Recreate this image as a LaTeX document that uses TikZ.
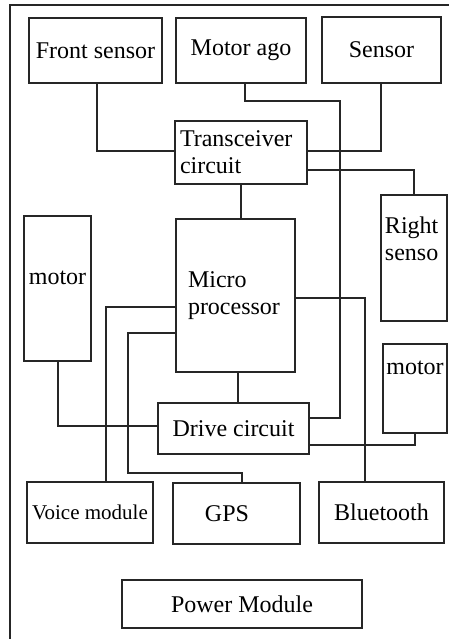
\documentclass[tikz,border=0pt]{standalone}
\usepackage{fontspec}
\setmainfont{Liberation Serif}
\begin{document}
\begin{tikzpicture}
  [x=0.5pt,y=-0.5pt,
   every node/.style={rectangle,draw=black!85,line width=0.9pt,inner sep=0pt,
     font=\fontsize{12}{13.5}\selectfont},
   leftbox/.style={align=left},
   wire/.style={draw=black!85,line width=0.9pt}]
  \useasboundingbox (0,0) rectangle (449,639);
  \draw[wire] (449,5) -- (10,5) -- (10,639);

  \node[minimum width=66.5pt,minimum height=32.5pt] (front) at (95.5,50.5) {Front sensor};
  \node[minimum width=65pt,minimum height=32.5pt] (mago) at (241,50.5) {Motor ago};
  \node[minimum width=59.5pt,minimum height=33pt] (sensor) at (381.5,50) {Sensor};
  \node[leftbox,text width=61pt,inner xsep=2.5pt,minimum height=31.5pt] (trans) at (241,152.5) {Transceiver\\circuit};
  \node[leftbox,text width=29pt,inner xsep=2pt,minimum height=63pt,text depth=33pt] (rsenso) at (414,258) {Right\\senso};
  \node[minimum width=33.5pt,minimum height=72.5pt,text depth=10.5pt] (lmotor) at (57.5,288.5) {motor};
  \node[leftbox,text width=47.5pt,inner xsep=6pt,minimum height=76.5pt] (micro) at (235.5,295.5) {Micro\\processor};
  \node[minimum width=32pt,minimum height=44.5pt,text depth=20.5pt] (rmotor) at (415,388.5) {motor};
  \node[minimum width=75.5pt,minimum height=25.5pt] (drive) at (233.5,428.5) {Drive circuit};
  \node[minimum width=63pt,minimum height=30.5pt,font=\fontsize{10.5}{12}\selectfont] (voice) at (90,512.5) {Voice module};
  \node[leftbox,text width=31.5pt,inner xsep=16pt,minimum height=30.5pt] (gps) at (236.5,513.5) {GPS};
  \node[minimum width=62.5pt,minimum height=30.5pt] (bt) at (381.5,512.5) {Bluetooth};
  \node[minimum width=120pt,minimum height=24pt] (power) at (242,604) {Power Module};

  \coordinate (bend1) at (340,101);
  \coordinate (bend2) at (128,473);

  \foreach \from/\fx/\to/\ty in {front/.75pt/trans.west/.75pt, sensor/-.25pt/trans.east/.75pt,
                                 lmotor/.25pt/drive.west/1.25pt}
  \draw[wire] ([xshift=\fx]\from.south) |- ([yshift=\ty]\to);

  \draw[wire] (trans.south) -- (trans.south |- micro.north);
  \draw[wire] ([xshift=1.25pt]micro.south) -- ([xshift=1.25pt]micro.south |- drive.north);
  \draw[wire] ([xshift=2pt]mago.south) |- (bend1) |- ([yshift=5.25pt]drive.east);
  \draw[wire] ([yshift=-8.75pt]trans.east) -| (rsenso.north);
  \draw[wire] ([yshift=-1.25pt]micro.east) -| ([xshift=-8.25pt]bt.north);
  \draw[wire] ([yshift=-5.75pt]micro.west) -| ([xshift=8pt]voice.north);
  \draw[wire] ([yshift=-18.75pt]micro.west) -| (bend2) -| ([xshift=2.75pt]gps.north);
  \draw[wire] ([yshift=-8.25pt]drive.east) -| (rmotor.south);
\end{tikzpicture}
\end{document}
